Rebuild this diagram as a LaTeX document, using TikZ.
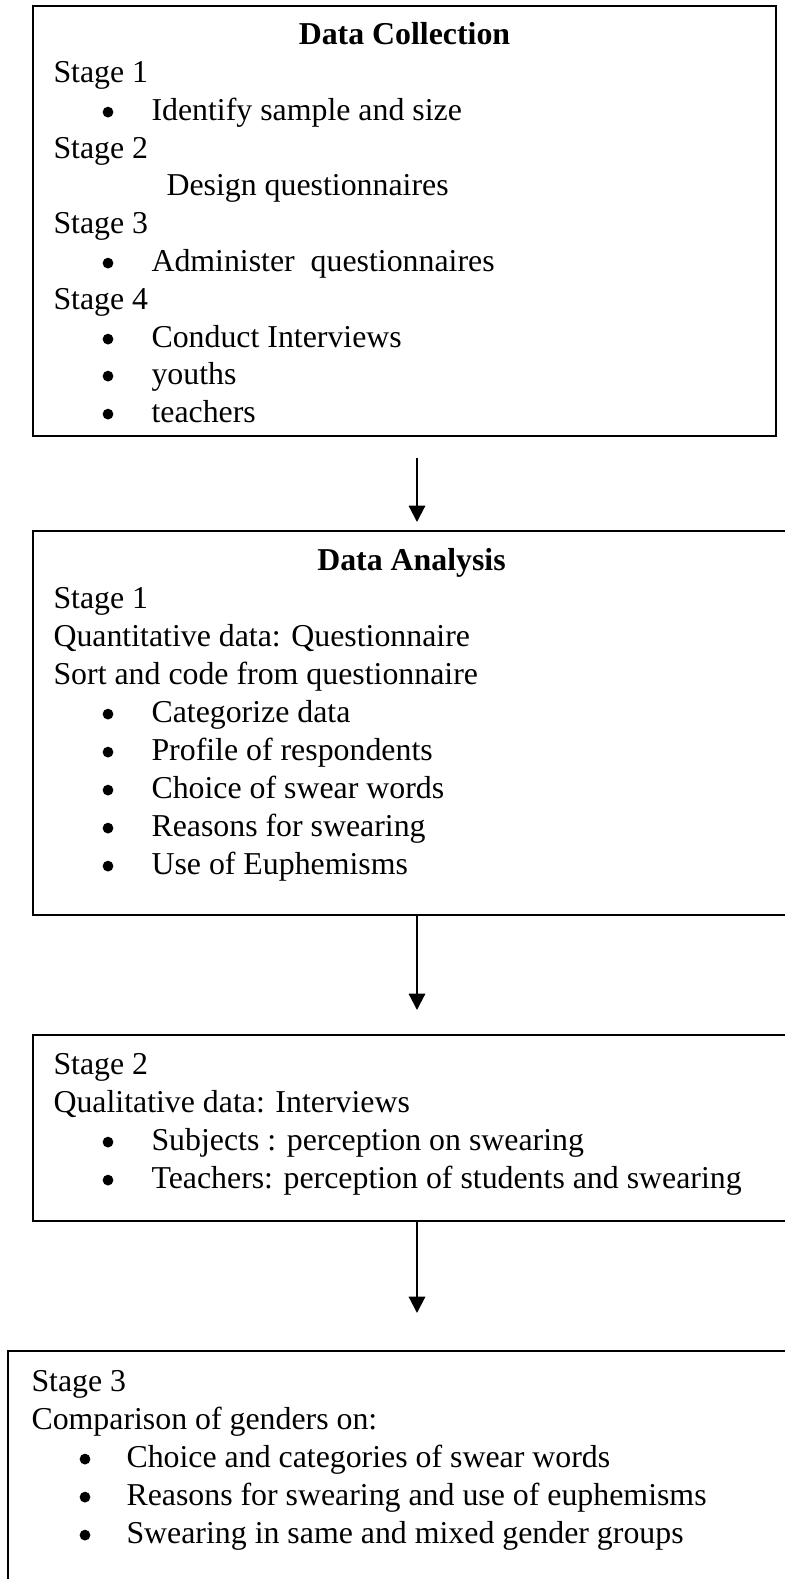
\documentclass[tikz,border=0pt]{standalone}
\usepackage{fontspec}
\setmainfont{Liberation Serif}
\usetikzlibrary{positioning,arrows.meta,fit}
\tikzset{
  >={Triangle[width=6.2pt,length=6.2pt]},
  %% boxes
  panel/.style = {draw=black, line width=0.8pt, inner sep=0pt},
  %% text
  head/.style  = {anchor=base, inner sep=0pt, font=\fontsize{12.1}{14}\selectfont\bfseries},
  txt/.style   = {anchor=base west, inner sep=0pt},
  dot/.style   = {circle, fill=black, inner sep=0pt, minimum size=4.1pt, yshift=3pt},
  %% arrows
  flow/.style  = {->, draw=black, line width=0.8pt},
}

\begin{document}
\begin{tikzpicture}[x=0.38pt, y=-0.38pt, font=\fontsize{12.1}{14}\selectfont]
\useasboundingbox (0,0) rectangle (785,1579);
\clip (0,0) rectangle (785,1579);

%% ============ boxes ============
\node[panel, fit={(33,6) (776,436)}]     (collect)  {};
\node[panel, fit={(33,531) (790,915)}]   (analysis) {};
\node[panel, fit={(33,1035) (790,1221)}] (qual)     {};
\node[panel, fit={(8,1351) (790,1600)}]  (compare)  {};

%% ============ data collection ============
\node[head] (dctitle) at (404.5,44) {Data Collection};
\node[txt] (dcs1) at (53,82) {Stage 1};
\node[dot] (dcb1) at (108,120) {};
\node[txt] (dcsample) at (151,120) {Identify sample and size};
\node[txt] (dcs2) at (53,158) {Stage 2};
\node[txt] (dcdesign) at (166,195) {Design questionnaires};
\node[txt] (dcs3) at (53,233) {Stage 3};
\node[dot] (dcb2) at (108,271) {};
\node[txt] (dcadmin) at (151,271) {Administer\ \ questionnaires};
\node[txt] (dcs4) at (53,309) {Stage 4};
\node[dot] (dcb3) at (108,347) {};
\node[txt] (dcinter) at (151,347) {Conduct Interviews};
\node[dot] (dcb4) at (108,384) {};
\node[txt] (dcyouth) at (151,384) {youths};
\node[dot] (dcb5) at (108,422) {};
\node[txt] (dcteach) at (151,422) {teachers};

%% ============ data analysis ============
\node[head] (datitle) at (411.5,570) {Data Analysis};
\node[txt] (das1) at (53,608) {Stage 1};
\node[txt] (daquant) at (53,646) {Quantitative data: Questionnaire};
\node[txt] (dasort) at (53,684) {Sort and code from questionnaire};
\node[dot] (dab1) at (108,722) {};
\node[txt] (dacat) at (151,722) {Categorize data};
\node[dot] (dab2) at (108,760) {};
\node[txt] (daprof) at (151,760) {Profile of respondents};
\node[dot] (dab3) at (108,798) {};
\node[txt] (dachoice) at (151,798) {Choice of swear words};
\node[dot] (dab4) at (108,836) {};
\node[txt] (dareason) at (151,836) {Reasons for swearing};
\node[dot] (dab5) at (108,874) {};
\node[txt] (daeuph) at (151,874) {Use of Euphemisms};

%% ============ qualitative ============
\node[txt] (qls2) at (53,1074) {Stage 2};
\node[txt] (qlint) at (53,1112) {Qualitative data: Interviews};
\node[dot] (qlb1) at (108,1150) {};
\node[txt] (qlsubj) at (151,1150) {Subjects : perception on swearing};
\node[dot] (qlb2) at (108,1188) {};
\node[txt] (qlteach) at (151,1188) {Teachers: perception of students and swearing};

%% ============ comparison ============
\node[txt] (cms3) at (31,1391) {Stage 3};
\node[txt] (cmgend) at (31,1429) {Comparison of genders on:};
\node[dot] (cmb1) at (85,1467) {};
\node[txt] (cmchoice) at (126,1467) {Choice and categories of swear words};
\node[dot] (cmb2) at (85,1505) {};
\node[txt] (cmreason) at (126,1505) {Reasons for swearing and use of euphemisms};
\node[dot] (cmb3) at (85,1543) {};
\node[txt] (cmmixed) at (126,1543) {Swearing in same and mixed gender groups};

%% ============ arrows ============
\coordinate (a1top) at (417,458);
\coordinate (a1tip) at (417,522);
\coordinate (a2tip) at (417,1010);
\coordinate (a3tip) at (417,1313);
\draw[flow] (a1top) -- (a1tip);
\draw[flow] (analysis.south -| a2tip) -- (a2tip);
\draw[flow] (qual.south -| a3tip) -- (a3tip);

\end{tikzpicture}
\end{document}
